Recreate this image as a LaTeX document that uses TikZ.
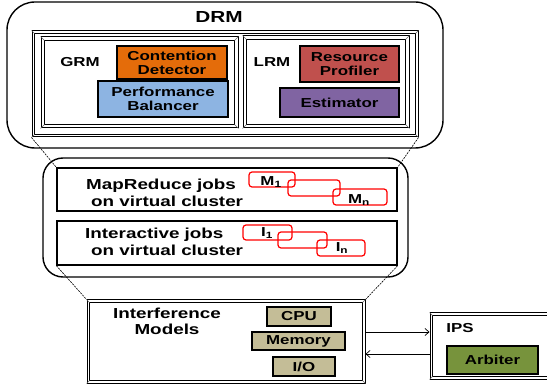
\documentclass[tikz,border=0pt]{standalone}
\usepackage{fontspec}
\setmainfont{Liberation Sans}[FakeStretch=1.3]
\usetikzlibrary{arrows.meta}
\definecolor{cdorange}{HTML}{E46C0A}
\definecolor{pbblue}{HTML}{8DB4E2}
\definecolor{rpred}{HTML}{C0504D}
\definecolor{estpurple}{HTML}{8064A2}
\definecolor{restan}{HTML}{C4BD97}
\definecolor{arbgreen}{HTML}{77933C}
\newcommand\dfr[2]{%
  \draw[dinner] ([shift={(#2,-#2)}]#1.north west) rectangle ([shift={(-#2,#2)}]#1.south east);
  \draw[dbevel] (#1.north west) -- ([shift={(#2,-#2)}]#1.north west);
  \draw[dbevel] (#1.north east) -- ([shift={(-#2,-#2)}]#1.north east);
  \draw[dbevel] (#1.south west) -- ([shift={(#2,#2)}]#1.south west);
  \draw[dbevel] (#1.south east) -- ([shift={(-#2,#2)}]#1.south east);
}
\begin{document}
\begin{tikzpicture}[x=1pt,y=-1pt,
  every node/.style={font=\bfseries\fontsize{13}{14}\selectfont, inner sep=0pt},
  roundbox/.style={draw, line width=1.4pt, rounded corners=#1},
  dframe/.style={draw, line width=1pt},
  dinner/.style={line width=0.8pt},
  dbevel/.style={line width=0.5pt, black!60},
  colbox/.style={draw, line width=1.1pt, align=center},
  plainbox/.style={draw, line width=1.3pt},
  jobbox/.style={draw=red, line width=1.2pt, rounded corners=3pt},
  conn/.style={line width=0.6pt, dash pattern=on 2pt off 1pt},
  arr/.style={line width=0.7pt, -{Straight Barb[length=4pt,width=7pt]}},
  lbl/.style={font=\bfseries\fontsize{14.5}{17}\selectfont, align=left}
]
\useasboundingbox (0,0) rectangle (547,385);
\clip (0,0) rectangle (547,385);

% DRM
\node[roundbox=28pt, minimum width=436pt, minimum height=146pt] (drm) at (225,75) {};
\node[font=\bfseries\fontsize{16}{18}\selectfont] (drmlbl) at (219,17) {DRM};
\node[dframe, minimum width=386pt, minimum height=106pt] (drmin) at (225,84) {};
\dfr{drmin}{3pt}
\node[dframe, minimum width=197pt, minimum height=91pt] (grm) at (139.5,82.5) {};
\dfr{grm}{4pt}
\node[dframe, minimum width=166pt, minimum height=92pt] (lrm) at (326,82) {};
\dfr{lrm}{4pt}
\node (grmlbl) at (80,62) {GRM};
\node (lrmlbl) at (272,62) {LRM};
\node[colbox, fill=cdorange, minimum width=110pt, minimum height=33pt] (cd) at (172,62.5) {Contention\\Detector};
\node[colbox, fill=pbblue, minimum width=130pt, minimum height=36pt] (pb) at (163,99) {Performance\\Balancer};
\node[colbox, fill=rpred, minimum width=99pt, minimum height=36pt] (rp) at (349.5,64) {Resource\\Profiler};
\node[colbox, fill=estpurple, minimum width=119pt, minimum height=29pt] (est) at (339.5,102.5) {Estimator};

% middle
\node[roundbox=20pt, minimum width=365pt, minimum height=119pt] (mid) at (225.5,217.5) {};
\node[plainbox, minimum width=340pt, minimum height=43pt] (mr) at (227,189.5) {};
\node[plainbox, minimum width=340pt, minimum height=44pt] (ia) at (227,243) {};
\node[lbl, anchor=west] (mrlbl) at (86,192.5) {MapReduce jobs\\\hspace*{5pt}on virtual cluster};
\node[lbl, anchor=west] (ialbl) at (85,241.5) {Interactive jobs\\\hspace*{6pt}on virtual cluster};

\draw[jobbox] (249,172) rectangle (295,187) coordinate (m1);
\draw[jobbox] (288,180) rectangle (340,196) coordinate (mm);
\draw[jobbox] (333,189) rectangle (387,205) coordinate (mn);
\draw[jobbox] (243,225) rectangle (292,240) coordinate (i1);
\draw[jobbox] (278,232) rectangle (327,248) coordinate (im);
\draw[jobbox] (317,240) rectangle (365,256) coordinate (inn);
\node (m1lbl) at (271,182) {M\textsubscript{1}};
\node (mnlbl) at (359,200) {M\textsubscript{n}};
\node (i1lbl) at (267,233) {I\textsubscript{1}};
\node (inlbl) at (342,248) {I\textsubscript{n}};

% bottom
\node[dframe, minimum width=278pt, minimum height=83pt] (intf) at (226,341.5) {};
\dfr{intf}{3pt}
\node[font=\bfseries\fontsize{14.5}{16}\selectfont, align=center] (intflbl) at (167,321) {Interference\\Models};
\node[colbox, fill=restan, minimum width=64pt, minimum height=19pt] (cpu) at (299,316.5) {CPU};
\node[colbox, fill=restan, minimum width=93pt, minimum height=18pt] (mem) at (298.5,341) {Memory};
\node[colbox, fill=restan, minimum width=62pt, minimum height=19pt] (io) at (304,366.5) {I/O};

\node[dframe, minimum width=130pt, minimum height=66pt] (ips) at (495,346) {};
\dfr{ips}{3pt}
\node (ipslbl) at (460,328) {IPS};
\node[colbox, fill=arbgreen, minimum width=91pt, minimum height=28pt] (arb) at (492.5,360) {Arbiter};

% connectors
\draw[conn] (drmin.south west) -- (mr.north west);
\draw[conn] (drmin.south east) -- (mr.north east);
\draw[conn] (ia.south west) -- (intf.north west);
\draw[conn] (ia.south east) -- (intf.north east);
\draw[arr] ([yshift=9.5pt]intf.east) -- ([yshift=9.5pt]intf.east -| ips.west);
\draw[arr] ([yshift=-12.5pt]intf.east -| ips.west) -- ([yshift=-12.5pt]intf.east);
\end{tikzpicture}
\end{document}
